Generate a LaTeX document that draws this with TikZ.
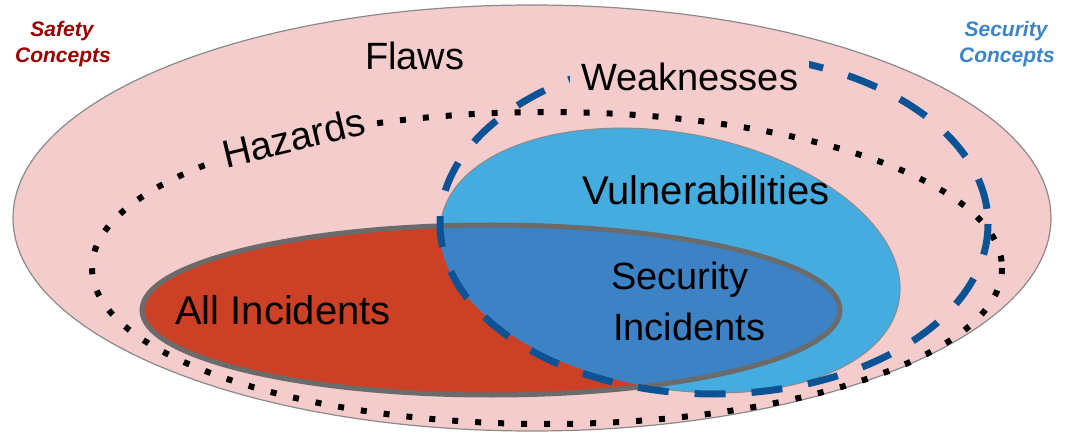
\documentclass[tikz,border=0pt]{standalone}
\usepackage{fontspec}
\setmainfont{Liberation Sans}
\definecolor{pinkc}{HTML}{F4CCCC}
\definecolor{outerline}{HTML}{8A8A8A}
\definecolor{vulnc}{HTML}{45ACE0}
\definecolor{interc}{HTML}{3C82C5}
\definecolor{redc}{HTML}{CC4125}
\definecolor{incline}{HTML}{6B6B6B}
\definecolor{dashc}{HTML}{0B5394}
\definecolor{safetyc}{HTML}{990000}
\definecolor{securityc}{HTML}{3D85C6}
\tikzset{
  biglbl/.style={font=\fontsize{38}{46}\selectfont, text=black, inner sep=0pt},
  hugelbl/.style={font=\fontsize{40}{48}\selectfont, text=black, inner sep=0pt},
  cornerlbl/.style={font=\fontsize{21}{26}\selectfont\bfseries\itshape, inner sep=0pt},
  dotline/.style={black, line width=6pt, dash pattern=on 6pt off 17pt},
  dashline/.style={dashc, line width=7pt, dash pattern=on 31pt off 26pt},
  vulnshape/.style={rotate around={-10:(670,260.5)}},
}
\begin{document}
\begin{tikzpicture}[x=1pt,y=-1pt]
\useasboundingbox (0,0) rectangle (1086,435);
% Flaws (outer)
\filldraw[fill=pinkc, draw=outerline, line width=1.2pt] (532,218) ellipse [x radius=519, y radius=213];
% Hazards (dotted)
\draw[dotline] (547,268) ellipse [x radius=455, y radius=156];
% Vulnerabilities
\filldraw[fill=vulnc, draw=outerline, line width=1pt, vulnshape] (670,260.5) ellipse [x radius=232.5, y radius=128];
% All incidents
\fill[redc] (491,310) ellipse [x radius=349, y radius=85];
\begin{scope}
  \clip (491,310) ellipse [x radius=349, y radius=85];
  \fill[interc, vulnshape] (670,260.5) ellipse [x radius=232.5, y radius=128];
\end{scope}
\draw[incline, line width=5pt] (491,310) ellipse [x radius=349, y radius=85];
% Weaknesses (dashed)
\draw[dashline] (714,224) ellipse [x radius=274, y radius=170];
% Labels
\node[biglbl, anchor=base west] (flaws) at (365,70) {Flaws};
\node[biglbl, anchor=base west, fill=pinkc, inner xsep=11pt, inner ysep=16pt] (weak) at (570,91) {Weaknesses};
\node[font=\fontsize{39}{46}\selectfont, text=black, anchor=base west, fill=pinkc, inner xsep=6pt, inner ysep=3pt, rotate=13.5] (haz) at (220,169.5) {Hazards};
\node[hugelbl, anchor=base west] (vuln) at (582,205) {Vulnerabilities};
\node[hugelbl, anchor=base west] (allinc) at (175,324) {All Incidents};
\node[biglbl, anchor=base west] (secinc1) at (611,290) {Security};
\node[biglbl, anchor=base west] (secinc2) at (613,340) {Incidents};
\node[cornerlbl, text=safetyc, anchor=base] (saf1) at (62,37) {Safety};
\node[cornerlbl, text=safetyc, anchor=base] (saf2) at (63,63) {Concepts};
\node[cornerlbl, text=securityc, anchor=base] (sec1) at (1006,37) {Security};
\node[cornerlbl, text=securityc, anchor=base] (sec2) at (1007,63) {Concepts};
\end{tikzpicture}
\end{document}
